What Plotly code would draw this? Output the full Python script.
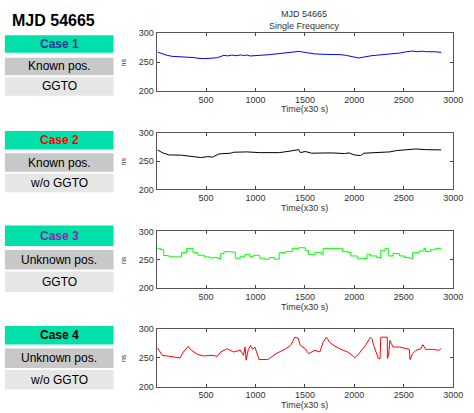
import plotly.graph_objects as go

# ---------------- data ----------------
t1 = [10, 56, 100, 155, 230, 319, 380, 418, 484, 560, 615, 660, 681, 720, 760, 813, 850, 880, 911, 945,
      977, 1050, 1141, 1200, 1260, 1306, 1370, 1437, 1490, 1536, 1600, 1701, 1780, 1865, 1920, 1964, 2000,
      2046, 2090, 2128, 2180, 2230, 2293, 2330, 2380, 2457, 2520, 2589, 2640, 2690, 2720, 2770, 2820, 2878]
v1 = [267.4, 264.6, 262.0, 260.0, 259.5, 258.9, 257.8, 256.6, 256.0, 256.8, 257.7, 260.5, 261.7, 260.8,
      262.2, 261.0, 262.5, 261.2, 262.3, 260.6, 260.8, 261.8, 262.9, 264.0, 264.8, 265.7, 267.2, 268.6,
      266.8, 265.7, 264.2, 263.4, 263.2, 262.9, 261.5, 260.0, 259.2, 257.1, 258.6, 260.0, 261.2, 262.0,
      262.9, 263.8, 264.5, 265.7, 267.8, 269.1, 268.1, 268.9, 268.0, 268.6, 267.9, 266.9]

t2 = [10, 56, 122, 253, 385, 451, 517, 566, 632, 747, 780, 911, 1043, 1240, 1339, 1438, 1454, 1503, 1569,
      1767, 1898, 1948, 1997, 2063, 2096, 2260, 2359, 2425, 2523, 2622, 2721, 2878]
v2 = [269.8, 265.0, 261.0, 260.5, 257.6, 256.4, 258.0, 257.0, 262.8, 264.0, 265.7, 266.3, 265.0, 265.0,
      267.4, 270.3, 265.0, 267.0, 264.0, 264.5, 263.4, 264.5, 261.0, 259.9, 264.0, 265.0, 266.3, 268.6,
      270.3, 271.5, 270.3, 269.8]

t3 = [10, 40, 72, 122, 155, 237, 253, 303, 336, 368, 418, 484, 533, 582, 615, 648, 681, 747, 796, 846,
      895, 944, 977, 1043, 1092, 1142, 1191, 1240, 1306, 1372, 1438, 1503, 1536, 1602, 1668, 1684, 1849,
      1882, 1931, 1964, 2030, 2096, 2128, 2162, 2227, 2260, 2267, 2310, 2333, 2343, 2392, 2458, 2507,
      2556, 2589, 2655, 2704, 2721, 2770, 2819, 2878]
v3 = [270.0, 267.6, 257.2, 256.0, 254.9, 254.9, 262.4, 270.0, 270.0, 262.4, 257.8, 254.9, 253.2, 253.8,
      252.0, 260.7, 264.2, 263.6, 252.6, 256.0, 259.5, 255.5, 257.8, 252.6, 250.9, 253.8, 250.9, 262.4,
      264.2, 270.0, 271.1, 266.5, 259.5, 263.0, 259.5, 270.0, 270.0, 264.2, 263.0, 256.6, 252.6, 252.0,
      259.5, 256.6, 253.8, 252.6, 266.5, 270.0, 270.0, 256.6, 260.7, 256.6, 253.8, 252.6, 262.4, 265.3,
      270.0, 264.2, 267.6, 270.0, 270.0]

t4 = [10, 56, 122, 188, 237, 270, 319, 352, 418, 484, 550, 615, 648, 714, 780, 846, 878, 895, 905, 928,
      951, 971, 994, 1036, 1125, 1207, 1257, 1306, 1356, 1398, 1431, 1454, 1503, 1536, 1602, 1651, 1684,
      1717, 1750, 1800, 1865, 1931, 1980, 2003, 2046, 2112, 2162, 2178, 2195, 2244, 2260, 2267, 2333,
      2334, 2346, 2359, 2375, 2392, 2458, 2523, 2556, 2563, 2589, 2622, 2671, 2694, 2721, 2787, 2853, 2878]
v4 = [266.9, 254.3, 252.6, 251.4, 249.7, 260.0, 269.7, 262.9, 255.4, 253.1, 254.3, 252.6, 260.0, 265.7,
      260.0, 263.4, 254.3, 268.6, 245.7, 264.6, 271.4, 264.6, 268.6, 246.9, 246.9, 257.1, 261.0, 265.7,
      271.4, 285.7, 284.0, 271.4, 265.7, 257.1, 262.9, 260.0, 277.0, 285.7, 277.0, 270.3, 264.6, 260.0,
      254.3, 249.7, 257.1, 271.4, 285.7, 282.9, 271.4, 248.6, 248.6, 285.7, 285.7, 248.6, 254.3, 280.0,
      274.3, 268.6, 268.6, 265.7, 264.6, 246.9, 257.1, 262.9, 265.7, 272.6, 264.6, 264.6, 262.9, 265.7]

series = [(t1, v1, "#0000FF", "linear"), (t2, v2, "#000000", "linear"),
          (t3, v3, "#00FF00", "hv"), (t4, v4, "#FF0000", "linear")]

x_ticks = [500, 1000, 1500, 2000, 2500, 3000]
y_ticks = [200, 250, 300]
x_title = "Time(x30 s)"
y_title = "ns"
main_title = "MJD 54665<br>Single Frequency"
panel_title = "MJD 54665"
case_labels = ["Case 1", "Case 2", "Case 3", "Case 4"]
case_colors = ["#333399", "#FF0000", "#7A2FA8", "#000000"]
pos_labels = ["Known pos.", "Known pos.", "Unknown pos.", "Unknown pos."]
ggto_labels = ["GGTO", "w/o GGTO", "GGTO", "w/o GGTO"]

# ---------------- layout geometry (pixels) ----------------
W, H = 474, 413
box_x = (160, 463)
box_y = [(29, 88), (131, 189), (232, 290), (332, 391)]
case_rows = [(31, 49), (129, 148), (226, 247), (329, 348)]
pos_rows = [(54, 72), (152, 171), (251, 271), (352, 372)]
ggto_rows = [(74, 93), (173, 192), (273, 294), (374, 394)]
left_x = (5, 116)

def px(x):
    return x / W

def py(y):
    return 1 - y / H

FONT = "Liberation Sans, Arial, sans-serif"
fig = go.Figure()
layout = dict(width=W, height=H, margin=dict(l=0, r=0, t=0, b=0),
              paper_bgcolor="white", plot_bgcolor="white", showlegend=False,
              font=dict(family=FONT, size=9, color="#333333"))
shapes, annots = [], []

for i, (t, v, col, shape) in enumerate(series):
    n = "" if i == 0 else str(i + 1)
    fig.add_trace(go.Scatter(x=t, y=v, mode="lines", line=dict(color=col, width=1, shape=shape),
                             xaxis="x" + n, yaxis="y" + n, hoverinfo="skip"))
    ax = dict(domain=[px(box_x[0]), px(box_x[1])], range=[0, 3000], tickvals=x_ticks,
              ticks="inside", ticklen=3, tickcolor="#444", showline=True, linecolor="#555",
              linewidth=1, mirror="ticks", showgrid=False, zeroline=False,
              tickfont=dict(size=9, color="#333"), anchor="y" + n)
    ay = dict(domain=[py(box_y[i][1]), py(box_y[i][0])], range=[200, 300], tickvals=y_ticks,
              ticks="inside", ticklen=3, tickcolor="#444", showline=True, linecolor="#555",
              linewidth=1, mirror="ticks", showgrid=False, zeroline=False,
              tickfont=dict(size=9, color="#333"), anchor="x" + n)
    layout["xaxis" + n] = ax
    layout["yaxis" + n] = ay
    annots.append(dict(text=x_title, x=px((box_x[0] + box_x[1]) / 2), y=py(box_y[i][1] + 19),
                       xref="paper", yref="paper", showarrow=False, xanchor="center", yanchor="middle",
                       font=dict(size=9, color="#333")))
    annots.append(dict(text=y_title, x=px(126), y=py((box_y[i][0] + box_y[i][1]) / 2),
                       xref="paper", yref="paper", showarrow=False, textangle=-90,
                       xanchor="center", yanchor="middle", font=dict(size=7, color="#333")))
    for (y0, y1), fill in [(case_rows[i], "#00E0A8"), (pos_rows[i], "#C8C8C8"), (ggto_rows[i], "#E6E6E6")]:
        shapes.append(dict(type="rect", xref="paper", yref="paper", x0=px(left_x[0]), x1=px(left_x[1]),
                           y0=py(y1), y1=py(y0), fillcolor=fill, line=dict(width=0), layer="below"))
    cx = px((left_x[0] + left_x[1]) / 2)
    annots.append(dict(text="<b>%s</b>" % case_labels[i], x=cx, y=py(sum(case_rows[i]) / 2),
                       xref="paper", yref="paper", showarrow=False, xanchor="center", yanchor="middle",
                       font=dict(size=12, color=case_colors[i], family=FONT)))
    annots.append(dict(text=pos_labels[i], x=cx, y=py(sum(pos_rows[i]) / 2),
                       xref="paper", yref="paper", showarrow=False, xanchor="center", yanchor="middle",
                       font=dict(size=12, color="#000", family=FONT)))
    annots.append(dict(text=ggto_labels[i], x=cx, y=py(sum(ggto_rows[i]) / 2),
                       xref="paper", yref="paper", showarrow=False, xanchor="center", yanchor="middle",
                       font=dict(size=12, color="#000", family=FONT)))

annots.append(dict(text=main_title, x=px((box_x[0] + box_x[1]) / 2), y=py(15),
                   xref="paper", yref="paper", showarrow=False, xanchor="center", yanchor="middle",
                   font=dict(size=9, color="#333")))
annots.append(dict(text="<b>%s</b>" % panel_title, x=px(10), y=py(16),
                   xref="paper", yref="paper", showarrow=False, xanchor="left", yanchor="middle",
                   font=dict(size=16, color="#000", family=FONT)))

layout["shapes"] = shapes
layout["annotations"] = annots
fig.update_layout(**layout)
fig.write_html("out.html",
               config={"displayModeBar": False, "staticPlot": True},
               post_script="document.body.style.margin='0';document.body.style.padding='0';"
                           "document.body.style.overflow='hidden';"
                           "document.documentElement.style.overflow='hidden';")
